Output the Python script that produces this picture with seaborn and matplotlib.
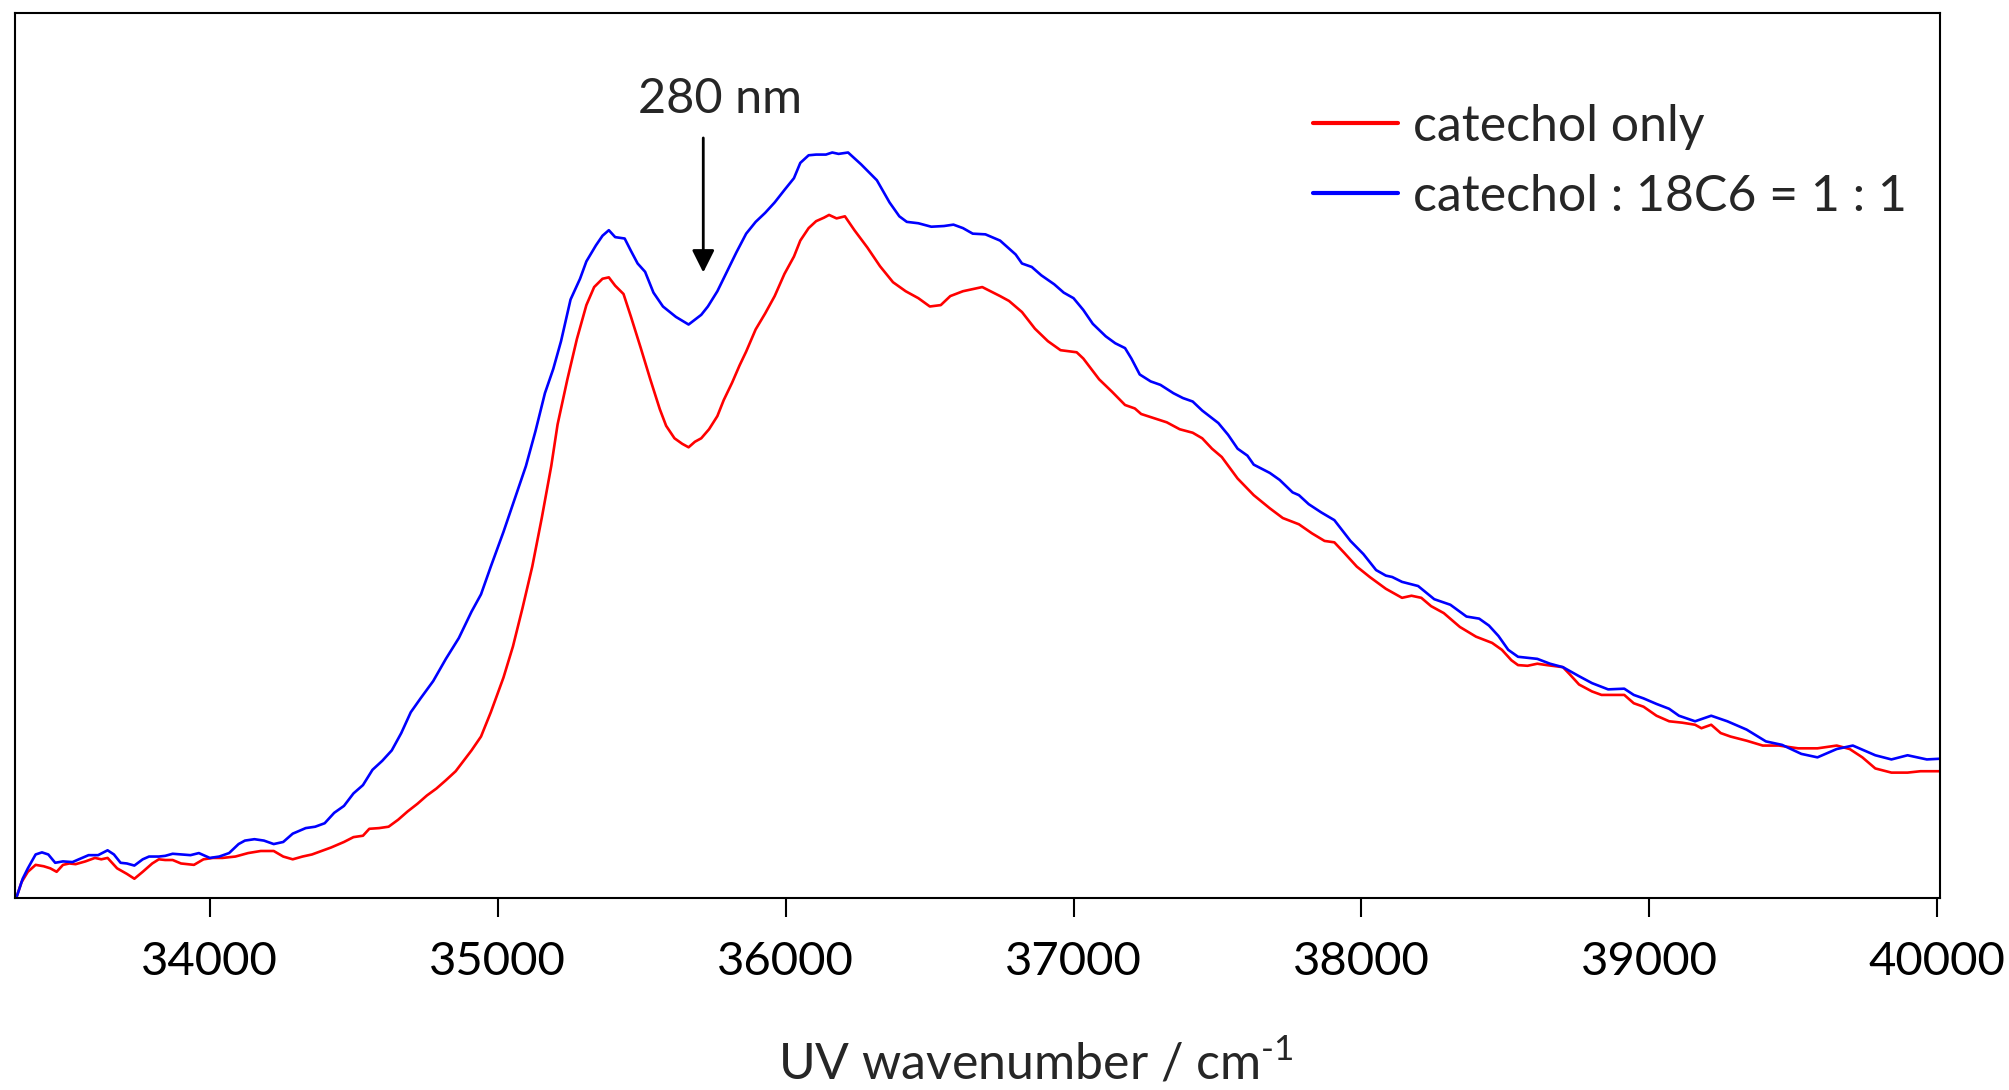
import pandas as pd
import numpy as np
import matplotlib
matplotlib.use("Agg")
import matplotlib.pyplot as plt
import seaborn as sns

# UV spectra (wavenumber in cm-1, intensity in arb. units)
red_x = [33330, 33346, 33368, 33395, 33423, 33446, 33468, 33490, 33512, 33534, 33568, 33601, 33623, 33645,
         33678, 33712, 33738, 33767, 33800, 33823, 33845, 33871, 33900, 33945, 33978, 34011, 34044, 34089,
         34133, 34177, 34222, 34255, 34288, 34322, 34355, 34388, 34421, 34466, 34499, 34532, 34554, 34588,
         34621, 34654, 34687, 34721, 34754, 34787, 34820, 34854, 34876, 34909, 34942, 34976, 35020, 35053,
         35086, 35120, 35153, 35186, 35208, 35242, 35275, 35308, 35335, 35364, 35386, 35408, 35437, 35463,
         35497, 35530, 35563, 35585, 35614, 35641, 35663, 35685, 35707, 35734, 35763, 35785, 35814, 35840,
         35863, 35896, 35929, 35962, 35996, 36029, 36051, 36080, 36106, 36133, 36151, 36177, 36206, 36239,
         36284, 36328, 36373, 36417, 36461, 36501, 36539, 36572, 36616, 36683, 36745,
         36776, 36821, 36866, 36911, 36955, 37011, 37034, 37089, 37134, 37179, 37213, 37235, 37280, 37324,
         37369, 37414, 37447, 37481, 37515, 37570, 37626, 37682, 37727, 37783, 37828, 37872, 37906, 37940,
         37984, 38029, 38085, 38141, 38174, 38208, 38242, 38286, 38342, 38398, 38454, 38488, 38521, 38544,
         38577, 38611, 38644, 38700, 38723, 38756, 38801, 38834, 38879, 38913, 38946, 38980, 39025, 39069,
         39114, 39159, 39181, 39215, 39248, 39282, 39338, 39394, 39450, 39517, 39584, 39651, 39696, 39740,
         39785, 39841, 39897, 39942, 40009]
red_y = [0.003, 0.023, 0.038, 0.048, 0.046, 0.043, 0.038, 0.048, 0.050, 0.049, 0.053, 0.058, 0.056, 0.058,
         0.043, 0.035, 0.028, 0.038, 0.050, 0.056, 0.055, 0.055, 0.050, 0.048, 0.056, 0.058, 0.058, 0.060,
         0.065, 0.068, 0.068, 0.060, 0.056, 0.060, 0.063, 0.068, 0.073, 0.081, 0.088, 0.090, 0.100, 0.101,
         0.103, 0.113, 0.125, 0.136, 0.148, 0.158, 0.170, 0.183, 0.195, 0.213, 0.233, 0.268, 0.318, 0.363,
         0.418, 0.478, 0.548, 0.623, 0.683, 0.748, 0.806, 0.855, 0.881, 0.893, 0.895, 0.883, 0.871, 0.838,
         0.793, 0.748, 0.705, 0.681, 0.663, 0.655, 0.650, 0.658, 0.663, 0.676, 0.695, 0.718, 0.743, 0.768,
         0.788, 0.820, 0.843, 0.868, 0.900, 0.925, 0.948, 0.966, 0.976, 0.981, 0.985, 0.980, 0.983, 0.963,
         0.938, 0.911, 0.888, 0.875, 0.865, 0.853, 0.855, 0.868, 0.875, 0.881, 0.868,
         0.861, 0.845, 0.821, 0.803, 0.790, 0.787, 0.778, 0.748, 0.730, 0.711, 0.706, 0.698, 0.692, 0.686,
         0.676, 0.671, 0.663, 0.648, 0.636, 0.605, 0.581, 0.562, 0.548, 0.539, 0.526, 0.515, 0.513, 0.498,
         0.478, 0.463, 0.446, 0.433, 0.436, 0.433, 0.421, 0.411, 0.391, 0.377, 0.368, 0.358, 0.343, 0.336,
         0.335, 0.338, 0.336, 0.333, 0.323, 0.308, 0.298, 0.293, 0.293, 0.293, 0.281, 0.276, 0.263, 0.255,
         0.253, 0.250, 0.245, 0.250, 0.238, 0.233, 0.227, 0.220, 0.220, 0.216, 0.216, 0.220, 0.215, 0.203,
         0.187, 0.181, 0.181, 0.183, 0.183]

blue_x = [33330, 33350, 33368, 33395, 33417, 33439, 33463, 33490, 33523, 33545, 33579, 33612, 33645, 33667,
          33690, 33712, 33738, 33767, 33789, 33823, 33845, 33871, 33900, 33933, 33962, 34000, 34033, 34067,
          34100, 34122, 34155, 34188, 34222, 34255, 34288, 34333, 34366, 34399, 34432, 34466, 34499, 34532,
          34565, 34599, 34632, 34665, 34698, 34732, 34776, 34820, 34865, 34909, 34942, 34976, 35020, 35053,
          35098, 35131, 35164, 35193, 35220, 35253, 35286, 35308, 35341, 35364, 35386, 35408, 35441, 35463,
          35486, 35512, 35541, 35574, 35619, 35663, 35707, 35730, 35763, 35796, 35829, 35863, 35896, 35929,
          35962, 35996, 36029, 36051, 36080, 36106, 36140, 36162, 36184, 36217, 36262, 36317, 36361, 36395,
          36421, 36461, 36506, 36550, 36583, 36616, 36650, 36694, 36745,
          36799, 36821, 36855, 36888, 36933, 36966, 37000, 37034, 37067, 37112, 37145, 37179, 37201, 37230,
          37268, 37302, 37347, 37380, 37414, 37447, 37503, 37537, 37570, 37604, 37626, 37682, 37716, 37761,
          37783, 37817, 37861, 37906, 37962, 38007, 38051, 38085, 38107, 38141, 38197, 38253, 38309, 38365,
          38409, 38443, 38476, 38510, 38544, 38611, 38655, 38700, 38756, 38801, 38857, 38913, 38946, 38980,
          39025, 39069, 39103, 39159, 39215, 39271, 39338, 39405, 39461, 39528, 39584, 39651, 39707, 39785,
          39841, 39897, 39964, 40009]
blue_y = [0.003, 0.028, 0.043, 0.063, 0.066, 0.063, 0.051, 0.053, 0.052, 0.056, 0.062, 0.062, 0.069, 0.063,
          0.051, 0.050, 0.047, 0.056, 0.060, 0.060, 0.061, 0.064, 0.063, 0.062, 0.065, 0.058, 0.060, 0.065,
          0.078, 0.083, 0.085, 0.083, 0.078, 0.081, 0.093, 0.101, 0.103, 0.108, 0.123, 0.133, 0.151, 0.163,
          0.185, 0.198, 0.213, 0.238, 0.268, 0.288, 0.313, 0.345, 0.375, 0.413, 0.438, 0.478, 0.528, 0.568,
          0.623, 0.673, 0.728, 0.763, 0.803, 0.863, 0.893, 0.918, 0.941, 0.955, 0.963, 0.953, 0.951, 0.933,
          0.915, 0.903, 0.873, 0.853, 0.838, 0.827, 0.841, 0.853, 0.875, 0.903, 0.931, 0.958, 0.975, 0.988,
          1.003, 1.021, 1.038, 1.060, 1.071, 1.072, 1.072, 1.075, 1.073, 1.075, 1.058, 1.035, 1.003, 0.983,
          0.975, 0.973, 0.968, 0.969, 0.971, 0.966, 0.958, 0.957, 0.948,
          0.928, 0.915, 0.910, 0.898, 0.885, 0.873, 0.865, 0.848, 0.828, 0.810, 0.800, 0.793, 0.778, 0.755,
          0.745, 0.740, 0.728, 0.721, 0.716, 0.703, 0.685, 0.668, 0.648, 0.638, 0.625, 0.613, 0.603, 0.585,
          0.581, 0.568, 0.556, 0.545, 0.515, 0.496, 0.473, 0.465, 0.463, 0.456, 0.450, 0.431, 0.423, 0.406,
          0.403, 0.393, 0.378, 0.358, 0.348, 0.345, 0.338, 0.333, 0.320, 0.310, 0.301, 0.302, 0.293, 0.288,
          0.280, 0.273, 0.263, 0.255, 0.263, 0.255, 0.243, 0.226, 0.221, 0.208, 0.203, 0.215, 0.220, 0.206,
          0.200, 0.206, 0.200, 0.201]

labels = ["catechol only", "catechol : 18C6 = 1 : 1"]
colors = ["#ff0000", "#0000ff"]
xticks = [34000, 35000, 36000, 37000, 38000, 39000, 40000]

df = pd.concat([
    pd.DataFrame({"wavenumber": red_x, "intensity": red_y, "sample": labels[0]}),
    pd.DataFrame({"wavenumber": blue_x, "intensity": blue_y, "sample": labels[1]}),
])

sns.set_style("white")
plt.rcParams["font.family"] = ["Lato", "DejaVu Sans"]
plt.rcParams["mathtext.fontset"] = "custom"
plt.rcParams["mathtext.rm"] = "Lato"

fig = plt.figure(figsize=(20.09, 10.9), dpi=100)
ax = fig.add_axes([0.0077, 0.176, 0.958, 0.812])

sns.lineplot(data=df, x="wavenumber", y="intensity", hue="sample", palette=colors,
             estimator=None, sort=False, linewidth=1.9, ax=ax)

ax.set_xlim(33325, 40010)
ax.set_ylim(0, 1.276)
ax.set_xticks(xticks)
ax.set_yticks([])
ax.set_ylabel("")
ax.set_xlabel(r"UV wavenumber / cm$^{\text{-1}}$", fontsize=36, labelpad=40)
ax.xaxis.label.set_x(0.53)
ax.tick_params(axis="x", direction="out", length=14, width=1.5, labelsize=34, pad=17,
               bottom=True, colors="black")
for s in ax.spines.values():
    s.set_color("black")
    s.set_linewidth(1.5)

# 280 nm marker
ax.annotate("", xy=(35714, 0.898), xytext=(35714, 1.100),
            arrowprops=dict(arrowstyle="-|>", color="black", lw=2, mutation_scale=34))
ax.text(35771, 1.152, "280 nm", fontsize=35, ha="center", va="center")

leg = ax.legend(loc="upper left", bbox_to_anchor=(0.664, 0.92), frameon=False,
                prop={"size": 36}, handlelength=1.7, handletextpad=0.3,
                labelspacing=0.48, borderaxespad=0)
for line in leg.get_lines():
    line.set_linewidth(3)

fig.savefig("out.png", dpi=100)
